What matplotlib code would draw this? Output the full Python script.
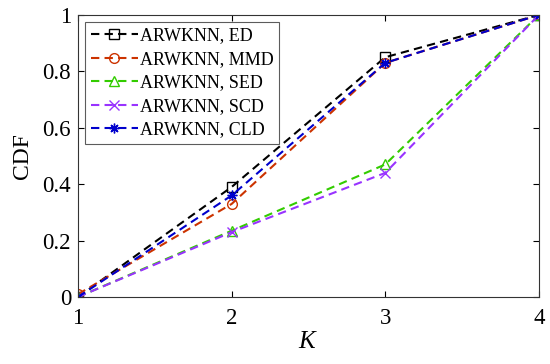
import matplotlib
matplotlib.use("Agg")
import matplotlib.pyplot as plt

K = [1, 2, 3, 4]
ed = [0.0, 0.39, 0.85, 1.0]
mmd = [0.01, 0.33, 0.83, 1.0]
sed = [0.0, 0.235, 0.47, 1.0]
scd = [0.0, 0.23, 0.44, 1.0]
cld = [0.0, 0.36, 0.83, 1.0]
labels = ["ARWKNN, ED", "ARWKNN, MMD", "ARWKNN, SED", "ARWKNN, SCD", "ARWKNN, CLD"]
xticks = [1, 2, 3, 4]
yticks = [0, 0.2, 0.4, 0.6, 0.8, 1.0]
ytlabels = ["0", "0.2", "0.4", "0.6", "0.8", "1"]

plt.rcParams['font.family'] = ['Liberation Serif', 'DejaVu Serif']
plt.rcParams['mathtext.fontset'] = 'custom'
plt.rcParams['mathtext.it'] = 'Liberation Serif:italic'

fig = plt.figure(figsize=(5.5, 3.64), dpi=100)
ax = fig.add_axes([0.1418, 0.184, 0.838, 0.775])

styles = [
    (ed, 'black', 's', 'none'),
    (mmd, '#cc3300', 'o', 'none'),
    (sed, '#33cc00', '^', 'none'),
    (scd, '#9933ff', 'x', None),
    (cld, '#0000cc', (8, 2, 0), None),
]
for (vals, c, m, mfc), lab in zip(styles, labels):
    kw = dict(markerfacecolor=mfc) if mfc else {}
    ax.plot(K, vals, linestyle=(0, (4, 2.5)), color=c, marker=m, markersize=7,
            linewidth=1.5, markeredgewidth=1.0, label=lab, **kw)

ax.set_xlim(1, 4)
ax.set_ylim(0, 1)
ax.set_xticks(xticks)
ax.set_yticks(yticks)
ax.set_yticklabels(ytlabels)
ax.tick_params(direction='in', labelsize=16.5, top=True, right=True, length=4)
ax.tick_params(axis='x', pad=8)
ax.tick_params(axis='y', pad=5)
ax.set_xlabel(r'$K$', fontsize=18, labelpad=1)
ax.set_ylabel('CDF', fontsize=17, labelpad=7)
for s in ax.spines.values():
    s.set_color('#333333')
    s.set_linewidth(0.8)

leg = ax.legend(loc='upper left', fontsize=13, frameon=True, fancybox=False,
                edgecolor='#333333', borderpad=0.3, labelspacing=0.36,
                handlelength=2.6, handletextpad=0.15, borderaxespad=0.4)
leg.get_frame().set_linewidth(0.8)

fig.savefig('out.png', dpi=100)
